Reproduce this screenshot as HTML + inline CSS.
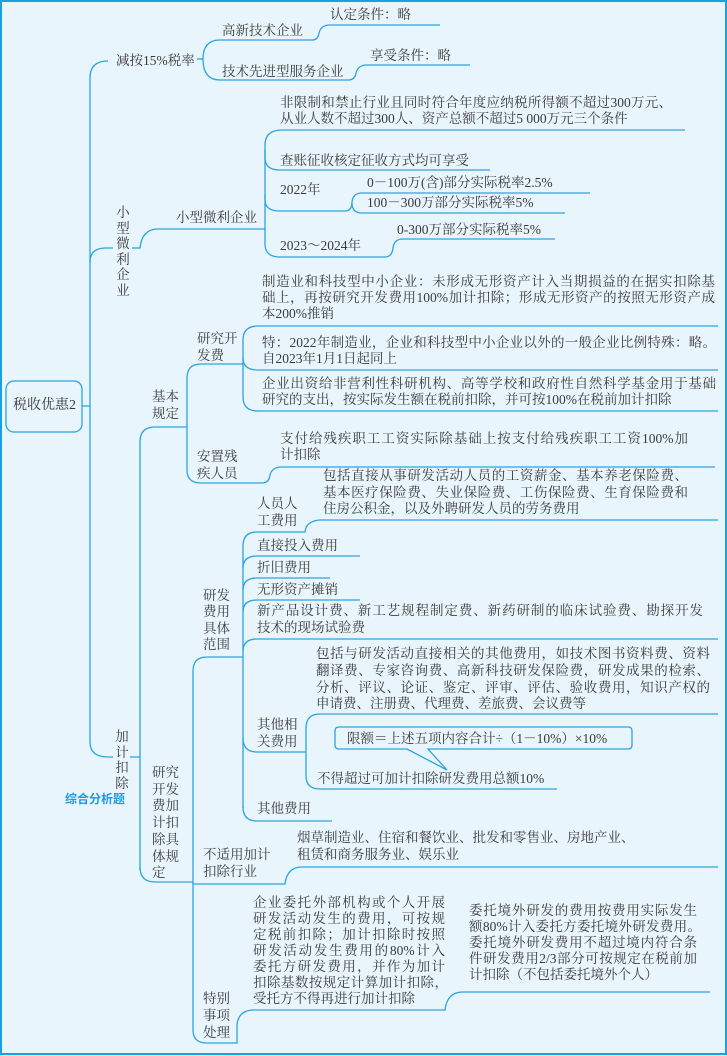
<!DOCTYPE html>
<html><head><meta charset="utf-8">
<style>
html,body{margin:0;padding:0}
body{width:727px;height:1056px;position:relative;overflow:hidden;background:#e9f5fd;font-family:"Liberation Serif","Noto Serif CJK SC",serif;color:#3a3a3a}
svg{position:absolute;left:0;top:0}
.t{position:absolute;white-space:nowrap;line-height:16px;font-size:13.5px}
.j{display:block;text-align:justify;text-align-last:justify}
.v{position:absolute;font-size:13.5px;width:16px;text-align:center;white-space:normal}
</style></head><body>
<svg width="727" height="1056" viewBox="0 0 727 1056" fill="none" stroke="#2aa4e2" stroke-width="1.3">
<rect x="1" y="1" width="725" height="1053" stroke="#1a9fe0" stroke-width="2"/>
<rect x="6" y="381" width="76" height="51" rx="8" fill="#e9f5fd"/>
<path d="M82,406 H90"/>
<path d="M108,61 Q90,61 90,78 V742 Q90,757 108,757 H113"/>
<path d="M90,262 Q90,248 106,248 H113"/>
<path d="M197,59 H203"/>
<path d="M203,59 Q203,40 220,40 H312 Q318,40 319,33 Q321,25 330,25 H440"/>
<path d="M203,59 Q203,80 220,80 H348 Q355,80 356,73 Q358,65 367,65 H470"/>
<path d="M132,248 H140 Q142,229 158,229 H265"/>
<path d="M265,229 V145 Q265,130 282,130 H685"/>
<path d="M265,150 V158 Q265,170 280,170 H490"/>
<path d="M265,195 V200 Q265,211 280,211 H345 Q352,211 352,202 Q353,193 362,193 H590"/>
<path d="M352,203 Q352,213 362,213 H565"/>
<path d="M265,229 V244 Q265,257 280,257 H385 Q392,257 393,248 Q394,239 403,239 H555"/>
<path d="M130,757 H140"/>
<path d="M140,870 V442 Q140,427 155,427 H187"/>
<path d="M140,867 Q140,882 155,882 H193"/>
<path d="M187,427 V378 Q187,364 201,364 H243"/>
<path d="M187,427 V470 Q187,483 201,483 H262 Q269,483 270,475 Q272,467 282,467 H715"/>
<path d="M243,364 V340 Q243,326 258,326 H718"/>
<path d="M243,358 Q243,370 258,370 H718"/>
<path d="M243,364 V397 Q243,411 258,411 H718"/>
<path d="M193,1030 V671 Q193,657 207,657 H243"/>
<path d="M193,884 H285 Q287,867 302,867 H718"/>
<path d="M193,1030 Q193,1043 207,1043 H237 V1024 Q239,1010 254,1010 H445 Q447,992 463,992 H710"/>
<path d="M243,808 V546 Q243,532 257,532 H305 Q306,521 320,520 H718"/>
<path d="M243,568 Q243,556 257,556 H360"/>
<path d="M243,590 Q243,578 257,578 H330"/>
<path d="M243,612 Q243,600 257,600 H360"/>
<path d="M243,651 Q243,639 257,639 H718"/>
<path d="M243,738 Q243,752 257,752 H306"/>
<path d="M243,807 Q243,821 257,821 H332"/>
<path d="M306,752 V728 Q306,714 320,714 H718"/>
<path d="M306,752 V776 Q306,789 320,789 H557"/>
<path d="M335,731 Q335,727 339,727 H628 Q632,727 632,731 V745 Q632,749 628,749 H428 L447,770 L407,749 H339 Q335,749 335,745 Z" fill="#e9f5fd"/>
</svg>

<div class="t" style="left:13px;top:398px;font-size:14px">税收优惠2</div>
<div class="t" style="left:330px;top:7px">认定条件：略</div>
<div class="t" style="left:222px;top:23px">高新技术企业</div>
<div class="t" style="left:116px;top:53px">减按15%税率</div>
<div class="t" style="left:222px;top:64px">技术先进型服务企业</div>
<div class="t" style="left:370px;top:48px">享受条件：略</div>
<div class="t" style="left:280px;top:95px"><span class="j" style="width:392px">非限制和禁止行业且同时符合年度应纳税所得额不超过300万元、</span>从业人数不超过300人、资产总额不超过5 000万元三个条件</div>
<div class="t" style="left:280px;top:153px">查账征收核定征收方式均可享受</div>
<div class="t" style="left:280px;top:182px">2022年</div>
<div class="t" style="left:367px;top:175px">0－100万(含)部分实际税率2.5%</div>
<div class="t" style="left:367px;top:195px">100－300万部分实际税率5%</div>
<div class="t" style="left:280px;top:238px">2023～2024年</div>
<div class="t" style="left:397px;top:222px">0-300万部分实际税率5%</div>
<div class="t" style="left:176px;top:210px">小型微利企业</div>
<div class="v" style="left:115px;top:205px;line-height:15.5px">小型微利企业</div>

<div class="t" style="left:262px;top:274px"><span class="j" style="width:453px">制造业和科技型中小企业：未形成无形资产计入当期损益的在据实扣除基</span><span class="j" style="width:453px">础上，再按研究开发费用100%加计扣除；形成无形资产的按照无形资产成</span>本200%推销</div>
<div class="t" style="left:262px;top:335px"><span class="j" style="width:454px">特：2022年制造业，企业和科技型中小企业以外的一般企业比例特殊：略。</span>自2023年1月1日起同上</div>
<div class="t" style="left:262px;top:376px"><span class="j" style="width:454px">企业出资给非营利性科研机构、高等学校和政府性自然科学基金用于基础</span>研究的支出，按实际发生额在税前扣除，并可按100%在税前加计扣除</div>
<div class="t" style="left:197px;top:330px;line-height:17px">研究开<br>发费</div>
<div class="t" style="left:152px;top:388px;line-height:17px">基本<br>规定</div>
<div class="t" style="left:197px;top:448px;line-height:17px">安置残<br>疾人员</div>
<div class="t" style="left:280px;top:431px"><span class="j" style="width:408px">支付给残疾职工工资实际除基础上按支付给残疾职工工资100%加</span>计扣除</div>
<div class="t" style="left:323px;top:468px;line-height:16.5px"><span class="j" style="width:365px">包括直接从事研发活动人员的工资薪金、基本养老保险费、</span><span class="j" style="width:365px">基本医疗保险费、失业保险费、工伤保险费、生育保险费和</span>住房公积金，以及外聘研发人员的劳务费用</div>
<div class="t" style="left:257px;top:495px;line-height:17px">人员人<br>工费用</div>
<div class="t" style="left:257px;top:538px">直接投入费用</div>
<div class="t" style="left:257px;top:560px">折旧费用</div>
<div class="t" style="left:257px;top:582px">无形资产摊销</div>
<div class="t" style="left:257px;top:603px;line-height:16.5px"><span class="j" style="width:446px">新产品设计费、新工艺规程制定费、新药研制的临床试验费、勘探开发</span>技术的现场试验费</div>
<div class="t" style="left:203px;top:588px;line-height:16.3px">研发<br>费用<br>具体<br>范围</div>
<div class="t" style="left:316px;top:646px;line-height:16.8px"><span class="j" style="width:394px">包括与研发活动直接相关的其他费用，如技术图书资料费、资料</span><span class="j" style="width:394px">翻译费、专家咨询费、高新科技研发保险费，研发成果的检索、</span><span class="j" style="width:394px">分析、评议、论证、鉴定、评审、评估、验收费用，知识产权的</span>申请费、注册费、代理费、差旅费、会议费等</div>
<div class="t" style="left:257px;top:716px;line-height:17px">其他相<br>关费用</div>
<div class="t" style="left:347px;top:731px">限额＝上述五项内容合计÷（1－10%）×10%</div>
<div class="t" style="left:317px;top:771px">不得超过可加计扣除研发费用总额10%</div>
<div class="t" style="left:257px;top:801px">其他费用</div>
<div class="t" style="left:297px;top:830px;line-height:16.5px">烟草制造业、住宿和餐饮业、批发和零售业、房地产业、<br>租赁和商务服务业、娱乐业</div>
<div class="t" style="left:203px;top:846px;line-height:17px">不适用加计<br>扣除行业</div>
<div class="t" style="left:152px;top:765px;line-height:16.7px">研究<br>开发<br>费加<br>计扣<br>除具<br>体规<br>定</div>
<div class="v" style="left:114px;top:729px;line-height:15.5px">加计扣除</div>
<div class="t" style="left:65px;top:791px;font-family:'Liberation Sans','Noto Sans CJK SC',sans-serif;font-weight:bold;font-size:12px;color:#1b9be0">综合分析题</div>
<div class="t" style="left:253px;top:895px"><span class="j" style="width:192px">企业委托外部机构或个人开展</span><span class="j" style="width:192px">研发活动发生的费用，可按规</span><span class="j" style="width:192px">定税前扣除；加计扣除时按照</span><span class="j" style="width:192px">研发活动发生费用的80%计入</span><span class="j" style="width:192px">委托方研发费用，并作为加计</span><span class="j" style="width:195px">扣除基数按规定计算加计扣除，</span>受托方不得再进行加计扣除</div>
<div class="t" style="left:469px;top:903px"><span class="j" style="width:228px">委托境外研发的费用按费用实际发生</span><span class="j" style="width:232px">额80%计入委托方委托境外研发费用。</span><span class="j" style="width:228px">委托境外研发费用不超过境内符合条</span><span class="j" style="width:228px">件研发费用2/3部分可按规定在税前加</span>计扣除（不包括委托境外个人）</div>
<div class="t" style="left:203px;top:990px;line-height:17px">特别<br>事项<br>处理</div>
</body></html>
